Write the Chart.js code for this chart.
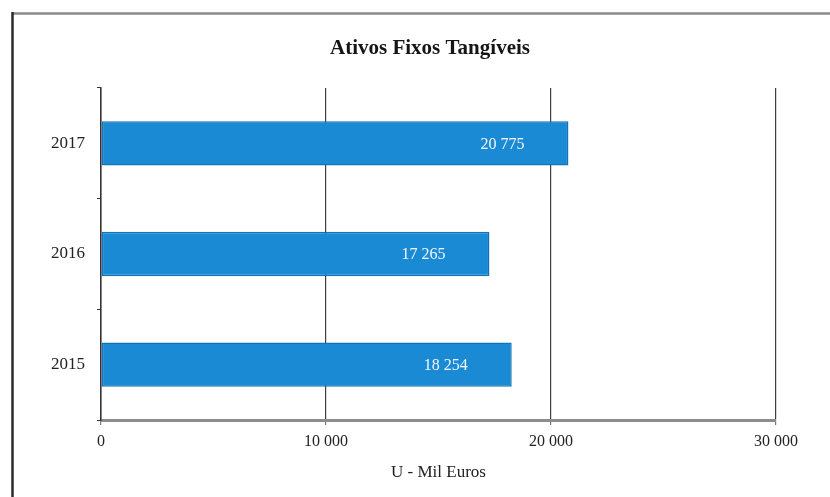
<!DOCTYPE html>
<html>
<head>
<meta charset="utf-8">
<script src="https://cdn.jsdelivr.net/npm/chart.js@4/dist/chart.umd.min.js"></script>
<style>
  html, body { margin: 0; padding: 0; background: #ffffff; }
  #wrap { position: relative; width: 830px; height: 497px; }
</style>
</head>
<body>
<div id="wrap"><canvas id="chart" width="830" height="497"></canvas></div>
<script>
// Ativos fixos tangíveis, em milhares de euros
const years = ['2017', '2016', '2015'];
const values = [20775, 17265, 18254];
const xTicks = [0, 10000, 20000, 30000];

const chartTitle = 'Ativos Fixos Tangíveis';
const axisTitle = 'U - Mil Euros';

function fmt(n) {
  return String(Math.round(n)).replace(/\B(?=(\d{3})+(?!\d))/g, ' ');
}

const SERIF = '"Liberation Serif", "DejaVu Serif", serif';

// outer frame of the figure, plus the heading centred inside the frame
const framePlugin = {
  id: 'frame',
  beforeDraw(chart) {
    const ctx = chart.ctx;
    ctx.save();
    ctx.fillStyle = '#ffffff';
    ctx.fillRect(0, 0, chart.width, chart.height);
    ctx.strokeStyle = '#8a8a8a';
    ctx.lineWidth = 2.5;
    ctx.beginPath();
    ctx.moveTo(12, 13.5);
    ctx.lineTo(chart.width + 2, 13.5);
    ctx.stroke();
    ctx.strokeStyle = '#2a2a2a';
    ctx.lineWidth = 2.5;
    ctx.beginPath();
    ctx.moveTo(12.5, 12);
    ctx.lineTo(12.5, chart.height + 2);
    ctx.stroke();

    ctx.fillStyle = '#151515';
    ctx.font = 'bold 21px ' + SERIF;
    ctx.textAlign = 'center';
    ctx.textBaseline = 'middle';
    ctx.fillText(chartTitle, 430, 49);
    ctx.restore();
  }
};

// value labels inside the end of each bar
const valueLabels = {
  id: 'valueLabels',
  afterDatasetsDraw(chart) {
    const ctx = chart.ctx;
    const meta = chart.getDatasetMeta(0);
    ctx.save();
    ctx.font = '16px ' + SERIF;
    ctx.fillStyle = '#f4f8fc';
    ctx.textAlign = 'right';
    ctx.textBaseline = 'middle';
    meta.data.forEach((bar, i) => {
      ctx.fillText(fmt(values[i]), bar.x - 44, bar.y + 1);
    });
    ctx.restore();
  }
};

new Chart(document.getElementById('chart'), {
  type: 'bar',
  data: {
    labels: years,
    datasets: [{
      data: values,
      backgroundColor: '#1b8ad5',
      borderColor: '#1473b5',
      borderWidth: 1.5,
      borderSkipped: false,
      barPercentage: 0.8,
      categoryPercentage: 0.5
    }]
  },
  options: {
    indexAxis: 'y',
    responsive: false,
    animation: false,
    devicePixelRatio: 1,
    layout: { padding: { left: 0, right: 54, top: 88, bottom: 0 } },
    plugins: {
      legend: { display: false },
      tooltip: { enabled: false },
      title: { display: false }
    },
    scales: {
      x: {
        min: 0,
        max: 30000,
        afterBuildTicks(scale) {
          scale.ticks = xTicks.map(v => ({ value: v }));
        },
        afterFit(scale) { scale.height = 77; },
        grid: {
          color: '#3f3f3f',
          lineWidth: 1.2,
          tickColor: '#777777',
          tickLength: 5,
          drawTicks: true
        },
        border: { display: true, color: '#8c8c8c', width: 3 },
        ticks: {
          color: '#222222',
          font: { family: SERIF, size: 16 },
          padding: 7,
          maxRotation: 0,
          callback: v => fmt(v)
        },
        title: {
          display: true,
          text: axisTitle,
          color: '#222222',
          font: { family: SERIF, size: 17 },
          padding: { top: 0, bottom: 14 }
        }
      },
      y: {
        afterFit(scale) { scale.width = 101; },
        grid: {
          drawOnChartArea: false,
          drawTicks: true,
          tickLength: 4,
          tickColor: '#333333',
          offset: true
        },
        border: { display: true, color: '#333333', width: 1.5 },
        ticks: {
          color: '#222222',
          font: { family: SERIF, size: 17 },
          padding: 12
        }
      }
    }
  },
  plugins: [framePlugin, valueLabels]
});
</script>
</body>
</html>
